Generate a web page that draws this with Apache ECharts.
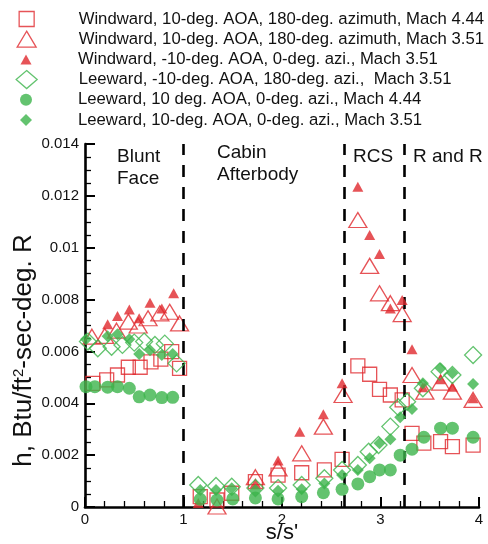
<!DOCTYPE html>
<html><head><meta charset="utf-8">
<script src="https://cdn.jsdelivr.net/npm/echarts@6/dist/echarts.min.js"></script>
<style>html,body{margin:0;padding:0;background:#fff}#c{width:488px;height:544px}</style>
</head><body><div id="c"></div>
<script>
const seriesNames = [
  'Windward, 10-deg. AOA, 180-deg. azimuth, Mach 4.44',
  'Windward, 10-deg. AOA, 180-deg. azimuth, Mach 3.51',
  'Windward, -10-deg. AOA, 0-deg. azi., Mach 3.51',
  'Leeward, -10-deg. AOA, 180-deg. azi.,  Mach 3.51',
  'Leeward, 10 deg. AOA, 0-deg. azi., Mach 4.44',
  'Leeward, 10-deg. AOA, 0-deg. azi., Mach 3.51'
];
const windward10M444 = [
  [0.08,0.00477],[0.22,0.0049],[0.33,0.00509],[0.44,0.00539],[0.56,0.00539],[0.67,0.0056],[0.77,0.0057],[0.88,0.00599],[0.96,0.00535],
  [1.17,0.0004],[1.34,0.00027],[1.49,0.00053],[1.73,0.00098],[1.96,0.00123],[2.2,0.00132],[2.43,0.00143],[2.61,0.00184],
  [2.77,0.00544],[2.89,0.00512],[2.99,0.00454],[3.10,0.00432],[3.22,0.00413],
  [3.32,0.00284],[3.44,0.00246],[3.61,0.00252],[3.73,0.00233],[3.94,0.00239]
];
const windward10M351 = [
  [0.07,0.00657],[0.2,0.0066],[0.32,0.0068],[0.44,0.00715],[0.54,0.0070],[0.64,0.00728],[0.76,0.00747],[0.86,0.00753],[0.96,0.00708],
  [1.34,0.00002],[1.73,0.00115],[1.96,0.00149],[2.2,0.00207],[2.42,0.0031],[2.62,0.00432],
  [2.77,0.01107],[2.89,0.0093],[2.99,0.00824],[3.10,0.00786],[3.22,0.00744],
  [3.32,0.00509],[3.45,0.00445],[3.61,0.0048],[3.73,0.00445],[3.94,0.00413]
];
const windwardM10M351 = [
  [0.23,0.00705],[0.33,0.00737],[0.45,0.00762],[0.55,0.00728],[0.66,0.00788],[0.78,0.00766],[0.90,0.00824],
  [1.15,0.00015],[1.73,0.00093],[1.96,0.00179],[2.18,0.0029],[2.42,0.00358],[2.61,0.00477],
  [2.77,0.01235],[2.89,0.01049],[2.99,0.00976],[3.10,0.00766],[3.22,0.00798],
  [3.32,0.00608],[3.43,0.00462],[3.61,0.00493],[3.73,0.00464],[3.94,0.00419]
];
const leewardM10M351 = [
  [0.03,0.00638],[0.13,0.00612],[0.27,0.00618],[0.38,0.00625],[0.5,0.00634],[0.6,0.00638],[0.71,0.00625],[0.81,0.0063],[0.93,0.00554],
  [1.15,0.00085],[1.33,0.00081],[1.49,0.00078],[1.73,0.00073],[1.96,0.00073],[2.2,0.00085],[2.43,0.00111],[2.61,0.00143],
  [2.77,0.00162],[2.88,0.00213],[2.98,0.00239],[3.10,0.0031],[3.18,0.00385],[3.27,0.00406],
  [3.43,0.00458],[3.6,0.00522],[3.73,0.00509],[3.94,0.00586]
];
const leeward10M444 = [
  [0.01,0.00464],[0.1,0.00464],[0.23,0.00462],[0.33,0.00464],[0.45,0.00458],[0.55,0.00425],[0.66,0.00432],[0.78,0.00422],[0.89,0.00423],
  [1.17,0.0003],[1.34,0.00027],[1.5,0.00031],[1.73,0.00035],[1.96,0.00031],[2.2,0.0004],[2.42,0.00055],[2.61,0.00068],
  [2.77,0.00089],[2.89,0.00117],[2.99,0.00143],[3.10,0.00143],[3.2,0.002],[3.32,0.00223],
  [3.44,0.00269],[3.61,0.00304],[3.73,0.00304],[3.94,0.00269]
];
const leeward10M351 = [
  [0.01,0.00647],[0.23,0.00659],[0.33,0.00666],[0.45,0.00647],[0.55,0.0059],[0.66,0.00605],[0.78,0.00586],[0.89,0.0059],
  [1.17,0.00066],[1.33,0.00066],[1.49,0.00072],[1.73,0.00066],[1.96,0.00063],[2.2,0.00068],[2.43,0.00091],[2.61,0.00123],
  [2.77,0.00143],[2.89,0.00188],[2.99,0.00246],[3.10,0.00261],[3.2,0.00346],[3.32,0.00378],
  [3.43,0.00477],[3.61,0.00535],[3.73,0.00516],[3.94,0.00474]
];
const regionBoundaries = [1, 2.63, 3.24];
const regionLabels = ['Blunt\nFace', 'Cabin\nAfterbody', 'RCS', 'R and R'];
const xTickValues = [0, 1, 2, 3, 4];
const yTickValues = [0, 0.002, 0.004, 0.006, 0.008, 0.01, 0.012, 0.014];

const FONT = '"Liberation Sans", Arial, sans-serif';
const RED = '#e0282d', GREEN = '#3cb44b';
const dataSets = [windward10M444, windward10M351, windwardM10M351, leewardM10M351, leeward10M444, leeward10M351];
const styles = [
  {symbol:'rect', size:[14,14], legend:[15,15], hollow:true, color:RED},
  {symbol:'triangle', size:[18,15], legend:[19,16], hollow:true, color:RED},
  {symbol:'triangle', size:[11,10], legend:[11,10], hollow:false, color:RED},
  {symbol:'diamond', size:[17,17], legend:[21,18], hollow:true, color:GREEN},
  {symbol:'circle', size:[13,13], legend:[12,12], hollow:false, color:GREEN},
  {symbol:'diamond', size:[12,12], legend:[12,12], hollow:false, color:GREEN}
];

const series = dataSets.map((d, i) => {
  const st = styles[i];
  return {
    type:'scatter', name: seriesNames[i], data: d, symbol: st.symbol, symbolSize: st.size,
    itemStyle: st.hollow ? {color:'rgba(255,255,255,0)', borderColor: st.color, borderWidth:1.3}
                         : {color: st.color, borderWidth:0},
    emphasis:{disabled:true}, silent:true, z: 3 + i
  };
});
series.push({
  type:'line', data: [], silent:true,
  markLine: {
    silent:true, symbol:['none','none'], label:{show:false},
    lineStyle:{color:'#000', type:[12,10], width:2.6},
    data: regionBoundaries.map(v => ({xAxis: v}))
  }
});

const legendIconX = 26, legendTextX = 78, legendTop0 = 19, legendStep = 20.2;
const legends = seriesNames.map((n, i) => {
  const st = styles[i];
  const w = st.legend[0], h = st.legend[1];
  return {
    data: [{name: n, icon: st.symbol}],
    left: legendIconX - w/2, top: legendTop0 + legendStep*i - 10, padding:0,
    itemWidth: w, itemHeight: h, selectedMode:false,
    itemStyle: st.hollow ? {color:'rgba(255,255,255,0)', borderColor: st.color, borderWidth:1.3} : {color: st.color, borderWidth:0},
    textStyle: {fontFamily:FONT, fontSize:16.7, color:'#111', lineHeight:20,
      padding:[0,0,0, legendTextX - (legendIconX + w/2 + 5)]}
  };
});

const regionLabelPos = [[117,146],[217,142],[353,146],[413,146]];
const graphics = regionLabels.map((t, i) => ({
  type:'text', left: regionLabelPos[i][0], top: regionLabelPos[i][1], silent:true,
  style:{text:t, font:'19px ' + FONT, fill:'#111', lineHeight:22}
}));

const chart = echarts.init(document.getElementById('c'), null, {renderer:'canvas'});
chart.setOption({
  animation:false,
  backgroundColor:'#fff',
  legend: legends,
  graphic: graphics,
  grid:{left:85, right:9, top:144, bottom:37, containLabel:false, outerBoundsMode:'none'},
  xAxis:{
    type:'value', min:0, max:4, interval:1,
    name:"s/s'", nameLocation:'middle', nameGap:15, nameMoveOverlap:false,
    nameTextStyle:{fontFamily:FONT, fontSize:22, color:'#111'},
    axisLine:{show:true, lineStyle:{color:'#000', width:2.6}},
    axisTick:{show:true, inside:true, length:10, lineStyle:{color:'#000', width:2}},
    minorTick:{show:true, splitNumber:5, length:6, lineStyle:{color:'#000', width:1.3}},
    splitLine:{show:false},
    axisLabel:{fontFamily:FONT, fontSize:15, color:'#111', margin:5,
      formatter: v => xTickValues.includes(v) ? String(v) : ''}
  },
  yAxis:{
    type:'value', min:0, max:0.014, interval:0.002,
    name:'h, Btu/ft{s|2}-sec-deg. R', nameLocation:'middle', nameGap:48, nameRotate:90, nameMoveOverlap:false,
    nameTextStyle:{fontFamily:FONT, fontSize:26, color:'#111', padding:[0,50,0,0],
      rich:{s:{fontSize:15, verticalAlign:'top', lineHeight:15, fontFamily:FONT, color:'#111'}}},
    axisLine:{show:true, lineStyle:{color:'#000', width:2.6}},
    axisTick:{show:true, inside:true, length:10, lineStyle:{color:'#000', width:2}},
    minorTick:{show:true, splitNumber:4, length:6, lineStyle:{color:'#000', width:1.3}},
    splitLine:{show:false},
    axisLabel:{fontFamily:FONT, fontSize:15, color:'#111', margin:6,
      formatter: v => { const r = +v.toFixed(3); return yTickValues.includes(r) ? String(r) : ''; }}
  },
  series: series
});
</script></body></html>
